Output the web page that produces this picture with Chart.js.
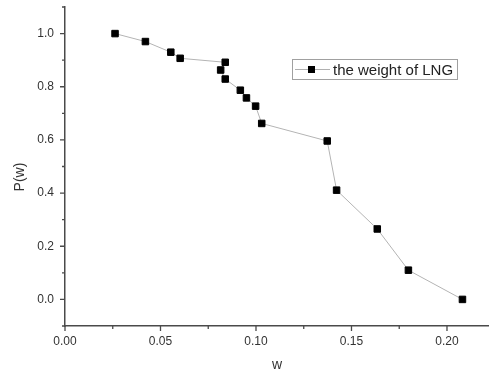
<!DOCTYPE html>
<html>
<head>
<meta charset="utf-8">
<script src="https://cdn.jsdelivr.net/npm/chart.js@4/dist/chart.umd.min.js"></script>
<style>
  html, body { margin: 0; padding: 0; background: #fff; }
  #wrap { width: 489px; height: 374px; }
</style>
</head>
<body>
<div id="wrap"><canvas id="chart" width="489" height="374"></canvas></div>
<script>
// data
const wValues = [0.0262, 0.0421, 0.0554, 0.0603, 0.0839, 0.0815, 0.0839, 0.0918, 0.0950, 0.0998, 0.1030, 0.1373, 0.1422, 0.1635, 0.1798, 0.2081];
const pValues = [1.000, 0.970, 0.930, 0.907, 0.892, 0.863, 0.829, 0.787, 0.758, 0.727, 0.662, 0.596, 0.411, 0.265, 0.110, 0.000];
const seriesLabel = 'the weight of LNG';

const xTicks = [0, 0.05, 0.10, 0.15, 0.20];
const xMinor = [0.025, 0.075, 0.125, 0.175];
const yTicks = [0, 0.2, 0.4, 0.6, 0.8, 1.0];
const yMinor = [-0.1, 0.1, 0.3, 0.5, 0.7, 0.9, 1.1];

const FONT = 'Liberation Sans, Arial, sans-serif';
const AXIS = '#4a4a4a';

// origin-style tick marks (major long, minor short), y title and in-plot legend
const decor = {
  id: 'decor',
  afterDraw(chart) {
    const ctx = chart.ctx, a = chart.chartArea;
    const xs = chart.scales.x, ys = chart.scales.y;
    ctx.save();
    ctx.strokeStyle = AXIS;
    ctx.lineWidth = 1.3;
    ctx.beginPath();
    xTicks.forEach(v => { const px = xs.getPixelForValue(v); ctx.moveTo(px, a.bottom); ctx.lineTo(px, a.bottom + 5); });
    xMinor.forEach(v => { const px = xs.getPixelForValue(v); ctx.moveTo(px, a.bottom); ctx.lineTo(px, a.bottom + 3); });
    yTicks.forEach(v => { const py = ys.getPixelForValue(v); ctx.moveTo(a.left, py); ctx.lineTo(a.left - 5, py); });
    yMinor.forEach(v => { const py = ys.getPixelForValue(v); ctx.moveTo(a.left, py); ctx.lineTo(a.left - 3, py); });
    ctx.stroke();

    // y axis title
    ctx.fillStyle = '#333';
    ctx.font = '14px ' + FONT;
    ctx.textAlign = 'center';
    ctx.textBaseline = 'middle';
    ctx.translate(20, 177);
    ctx.rotate(-Math.PI / 2);
    ctx.fillText('P(w)', 0, 0);
    ctx.restore();

    // legend box
    const lx = 292, ly = 59, lw = 165, lh = 20;
    ctx.save();
    ctx.strokeStyle = '#a0a0a0';
    ctx.lineWidth = 1;
    ctx.strokeRect(lx + 0.5, ly + 0.5, lw, lh);
    const my = ly + lh / 2 + 0.5;
    ctx.strokeStyle = '#b0b0b0';
    ctx.beginPath();
    ctx.moveTo(lx + 3, my); ctx.lineTo(lx + 38, my);
    ctx.stroke();
    ctx.fillStyle = '#000';
    ctx.fillRect(lx + 16, my - 3.5, 7, 7);
    ctx.fillStyle = '#222';
    ctx.font = '15px ' + FONT;
    ctx.textAlign = 'left';
    ctx.textBaseline = 'middle';
    ctx.fillText(chart.data.datasets[0].label, lx + 41, my + 1);
    ctx.restore();
  }
};

new Chart(document.getElementById('chart'), {
  type: 'scatter',
  data: {
    datasets: [{
      label: seriesLabel,
      data: wValues.map((w, i) => ({ x: w, y: pValues[i] })),
      showLine: true,
      borderColor: '#b4b4b4',
      borderWidth: 1,
      pointStyle: 'rect',
      pointRadius: 4.6,
      pointBackgroundColor: '#000',
      pointBorderColor: '#000',
      pointBorderWidth: 1
    }]
  },
  options: {
    responsive: false,
    animation: false,
    events: [],
    layout: { autoPadding: false, padding: { top: 7, right: 0, bottom: 0, left: 0 } },
    plugins: { legend: { display: false }, tooltip: { enabled: false } },
    scales: {
      x: {
        type: 'linear',
        min: 0,
        max: 0.222,
        afterBuildTicks: s => { s.ticks = xTicks.map(v => ({ value: v })); },
        afterFit: s => { s.height = 48; s.paddingLeft = 0; s.paddingRight = 0; },
        ticks: { color: '#333', font: { family: FONT, size: 12 }, padding: 8, callback: v => v.toFixed(2), maxRotation: 0 },
        grid: { drawOnChartArea: false, drawTicks: false },
        border: { display: true, color: AXIS, width: 1.5 },
        title: { display: true, text: 'w', color: '#333', font: { family: FONT, size: 14 }, padding: { top: 0, bottom: 0 } }
      },
      y: {
        type: 'linear',
        min: -0.1,
        max: 1.1,
        afterBuildTicks: s => { s.ticks = yTicks.map(v => ({ value: v })); },
        afterFit: s => { s.width = 65; s.paddingTop = 0; s.paddingBottom = 0; },
        ticks: { color: '#333', font: { family: FONT, size: 12 }, padding: 11, callback: v => v.toFixed(1) },
        grid: { drawOnChartArea: false, drawTicks: false },
        border: { display: true, color: AXIS, width: 1.5 }
      }
    }
  },
  plugins: [decor]
});
</script>
</body>
</html>
